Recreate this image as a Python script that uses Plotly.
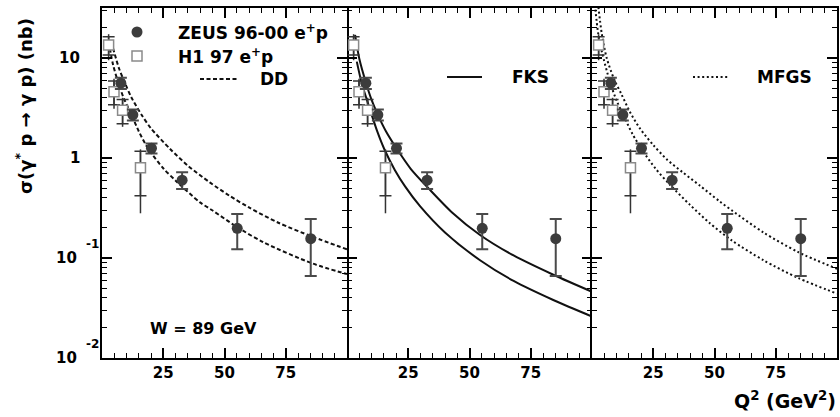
import math
import plotly.graph_objects as go

# ---------------- data ----------------
zeus_q2 = [7.7, 12.6, 20.2, 32.7, 55.2, 85.2]
zeus_sigma = [5.6, 2.7, 1.25, 0.60, 0.198, 0.156]
zeus_err_up = [0.75, 0.35, 0.15, 0.12, 0.077, 0.089]
zeus_err_down = [0.70, 0.33, 0.14, 0.11, 0.076, 0.090]

h1_q2 = [2.7, 4.9, 8.4, 15.7]
h1_sigma = [13.5, 4.6, 3.0, 0.80]
h1_stat_up = [2.8, 1.3, 0.85, 0.37]
h1_stat_down = [2.8, 1.2, 0.80, 0.38]
h1_tot_up = [3.8, 1.6, 1.0, 0.42]
h1_tot_down = [4.0, 1.5, 0.95, 0.52]

dd_upper_q2 = [4.5, 5.3, 7, 9.4, 12, 16.2, 20, 27.8, 35, 44, 52, 60, 72, 86, 100]
dd_upper = [12.5, 10.7, 7.8, 5.6, 4.03, 2.69, 1.98, 1.23, 0.84, 0.57, 0.42, 0.32, 0.225, 0.163, 0.122]
dd_lower_q2 = [3.2, 4.5, 6.7, 9, 12.1, 15, 18.9, 25, 30.5, 40, 45, 55, 66, 86, 100]
dd_lower = [12.5, 8.6, 5.6, 3.9, 2.69, 1.85, 1.23, 0.79, 0.58, 0.36, 0.30, 0.205, 0.143, 0.088, 0.069]

fks_upper_q2 = [3.3, 5, 7.8, 10, 12.6, 16, 20.2, 26, 33.2, 43, 54.3, 68, 84.2, 100]
fks_upper = [17, 9.9, 5.6, 3.84, 2.7, 1.83, 1.25, 0.78, 0.50, 0.284, 0.17, 0.106, 0.068, 0.046]
fks_lower_q2 = [4.0, 6.0, 8.0, 10.1, 12.5, 15.2, 19.5, 23.7, 29.8, 40, 54.3, 68, 84.2, 100]
fks_lower = [9.2, 5.6, 3.9, 2.69, 1.80, 1.23, 0.76, 0.52, 0.33, 0.18, 0.095, 0.059, 0.038, 0.026]

mfgs_upper_q2 = [2.4, 4, 6, 9, 12.1, 15.5, 19.6, 25, 30.5, 37, 44, 52, 57, 70, 84, 100]
mfgs_upper = [36, 17.4, 10, 6.15, 4.3, 2.88, 1.97, 1.35, 0.97, 0.72, 0.53, 0.37, 0.30, 0.18, 0.115, 0.078]
mfgs_lower_q2 = [1.2, 2.5, 4.0, 7.3, 10, 12.8, 16.5, 20.9, 26, 31.8, 40, 48, 57, 70, 84.2, 100]
mfgs_lower = [34, 17.7, 11.6, 5.8, 3.77, 2.69, 1.74, 1.16, 0.78, 0.54, 0.34, 0.224, 0.15, 0.095, 0.063, 0.044]

x_tickvals = [25, 50, 75]
x_ticktext = ["25", "50", "75"]
y_tickvals = [10, 1, 0.1, 0.01]
y_tick_base = ["10", "1", "10", "10"]
y_tick_exp = ["", "", "-1", "-2"]

model_names = ["DD", "FKS", "MFGS"]

# ---------------- styling / layout ----------------
FONT = "DejaVu Sans"
ZEUS_COLOR = "#3c3c3c"
H1_COLOR = "#8a8a8a"
W, H = 840, 417
L, R, T, B = 102, 3, 8, 59
PW, PH = W - L - R, H - T - B


def px_x(px):
    return (px - L) / PW


def px_y(py):
    return (H - B - py) / PH


curve_sets = [
    ((dd_upper_q2, dd_upper), (dd_lower_q2, dd_lower), dict(color="#111", width=2, dash="4px,2.5px")),
    ((fks_upper_q2, fks_upper), (fks_lower_q2, fks_lower), dict(color="#111", width=2)),
    ((mfgs_upper_q2, mfgs_upper), (mfgs_lower_q2, mfgs_lower), dict(color="#111", width=2, dash="2px,2.6px")),
]

fig = go.Figure()

for i, (up, lo, lstyle) in enumerate(curve_sets):
    xa = "x" if i == 0 else f"x{i+1}"
    ya = "y" if i == 0 else f"y{i+1}"
    for cx, cy in (up, lo):
        fig.add_trace(go.Scatter(x=cx, y=cy, mode="lines", line=dict(shape="spline", smoothing=0.8, **lstyle),
                                 xaxis=xa, yaxis=ya, showlegend=False, hoverinfo="skip"))
    fig.add_trace(go.Scatter(x=h1_q2, y=h1_sigma, mode="markers",
                             marker=dict(size=1, color="rgba(0,0,0,0)"),
                             error_y=dict(type="data", symmetric=False, array=h1_tot_up, arrayminus=h1_tot_down,
                                          color="#333", thickness=1.5, width=0),
                             xaxis=xa, yaxis=ya, showlegend=False))
    fig.add_trace(go.Scatter(x=h1_q2, y=h1_sigma, mode="markers",
                             marker=dict(symbol="square", size=10, color="white", line=dict(color=H1_COLOR, width=1.5)),
                             error_y=dict(type="data", symmetric=False, array=h1_stat_up, arrayminus=h1_stat_down,
                                          color="#333", thickness=1.5, width=6),
                             xaxis=xa, yaxis=ya, showlegend=False))
    fig.add_trace(go.Scatter(x=zeus_q2, y=zeus_sigma, mode="markers",
                             marker=dict(symbol="circle", size=11, color=ZEUS_COLOR, line=dict(width=0)),
                             error_y=dict(type="data", symmetric=False, array=zeus_err_up, arrayminus=zeus_err_down,
                                          color="#4a4a4a", thickness=2, width=6),
                             xaxis=xa, yaxis=ya, showlegend=False))

tickfont = dict(family=FONT, size=15, color="black", weight="bold")
layout_axes = {}
for i in range(3):
    sx = "" if i == 0 else str(i + 1)
    layout_axes[f"xaxis{sx}"] = dict(
        domain=[i / 3, (i + 1) / 3], range=[0, 100], anchor=f"y{sx}",
        tickmode="array", tickvals=x_tickvals, ticktext=x_ticktext,
        ticks="inside", ticklen=10, tickwidth=1.5, tickcolor="black",
        minor=dict(ticks="inside", ticklen=5, tickwidth=1.2, dtick=5, tickcolor="black", showgrid=False),
        mirror="ticks", showline=True, linecolor="black", linewidth=1.5,
        showgrid=False, zeroline=False, tickfont=tickfont, automargin=False,
    )
    # the middle panel draws no vertical lines of its own; its borders come from its neighbours
    layout_axes[f"yaxis{sx}"] = dict(
        domain=[0, 1], type="log", range=[-2, 1.5], anchor=f"x{sx}",
        dtick=1, ticks="inside", ticklen=10, tickwidth=1.5, tickcolor="black",
        minor=dict(ticks="inside", ticklen=5, tickwidth=1.2, dtick="D1", tickcolor="black", showgrid=False),
        mirror="ticks", showline=(i != 1), linecolor="black", linewidth=1.5,
        showgrid=False, zeroline=False, showticklabels=False, automargin=False,
    )

annotations = []
shapes = []
bold = lambda s: dict(family=FONT, size=s, color="black", weight="bold")

for v, base, ex in zip(y_tickvals, y_tick_base, y_tick_exp):
    ly = math.log10(v)
    if ex:
        annotations.append(dict(text=base, xref="paper", yref="y", x=px_x(79), y=ly, xanchor="right",
                                yanchor="middle", showarrow=False, font=bold(15)))
        annotations.append(dict(text=ex, xref="paper", yref="y", x=px_x(84), y=ly + 0.14, xanchor="left",
                                yanchor="middle", showarrow=False, font=bold(12)))
    else:
        annotations.append(dict(text=base, xref="paper", yref="y", x=px_x(82), y=ly, xanchor="right",
                                yanchor="middle", showarrow=False, font=bold(15)))

annotations.append(dict(text="σ(γ<sup>*</sup> p → γ p) (nb)", xref="paper", yref="paper",
                        x=px_x(24), y=px_y(106), textangle=-90, showarrow=False, font=bold(18),
                        xanchor="center", yanchor="middle"))
annotations.append(dict(text="Q<sup>2</sup> (GeV<sup>2</sup>)", xref="paper", yref="paper",
                        x=px_x(838), y=px_y(400), xanchor="right", yanchor="middle", showarrow=False,
                        font=bold(19)))
annotations.append(dict(text="W = 89 GeV", xref="paper", yref="paper", x=px_x(203), y=px_y(328),
                        xanchor="center", yanchor="middle", showarrow=False, font=bold(16)))

shapes.append(dict(type="circle", xref="paper", yref="paper", xsizemode="pixel", ysizemode="pixel",
                   xanchor=px_x(137), yanchor=px_y(32), x0=-5.5, x1=5.5, y0=-5.5, y1=5.5,
                   fillcolor=ZEUS_COLOR, line=dict(width=0)))
annotations.append(dict(text="ZEUS 96-00 e<sup>+</sup>p", xref="paper", yref="paper", x=px_x(176), y=px_y(32),
                        xanchor="left", yanchor="middle", showarrow=False, font=bold(17)))
shapes.append(dict(type="rect", xref="paper", yref="paper", xsizemode="pixel", ysizemode="pixel",
                   xanchor=px_x(137), yanchor=px_y(56), x0=-5, x1=5, y0=-5, y1=5,
                   fillcolor="white", line=dict(color=H1_COLOR, width=1.5)))
annotations.append(dict(text="H1 97 e<sup>+</sup>p", xref="paper", yref="paper", x=px_x(176), y=px_y(56),
                        xanchor="left", yanchor="middle", showarrow=False, font=bold(17)))

legend_lines = [(200, 237, 79, 258), (447, 482, 77, 510), (693, 728, 77, 755)]
for (x0, x1, yy, tx), name, (_, _, st) in zip(legend_lines, model_names, curve_sets):
    shapes.append(dict(type="line", xref="paper", yref="paper", x0=px_x(x0), x1=px_x(x1),
                       y0=px_y(yy), y1=px_y(yy), line=dict(color=st["color"], width=st["width"],
                                                           dash=st.get("dash", "solid"))))
    annotations.append(dict(text=name, xref="paper", yref="paper", x=px_x(tx), y=px_y(yy),
                            xanchor="left", yanchor="middle", showarrow=False, font=bold(17)))

fig.update_layout(
    width=W, height=H, margin=dict(l=L, r=R, t=T, b=B, autoexpand=False),
    paper_bgcolor="white", plot_bgcolor="white",
    font=dict(family=FONT, color="black"),
    annotations=annotations, shapes=shapes, showlegend=False,
    **layout_axes,
)

fig.write_html("out.html")
